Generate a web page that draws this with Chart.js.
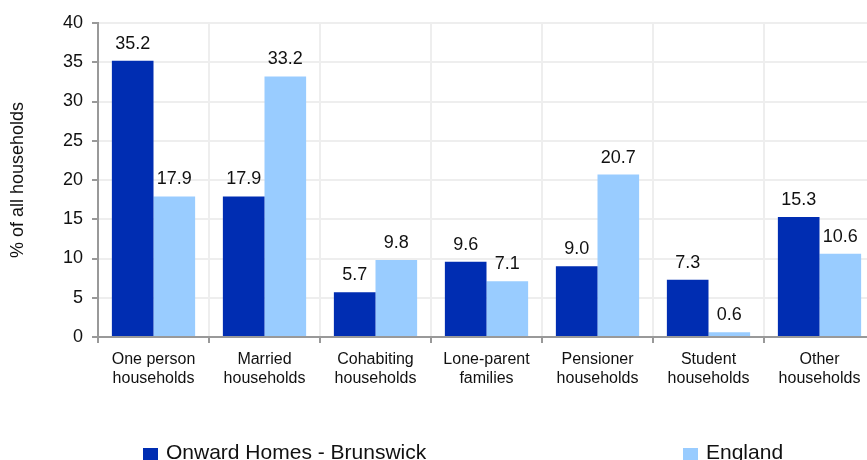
<!DOCTYPE html>
<html>
<head>
<meta charset="utf-8">
<script src="https://cdn.jsdelivr.net/npm/chart.js@4/dist/chart.umd.min.js"></script>
<style>
  body { margin: 0; background: #fff; overflow: hidden; }
  #wrap { position: relative; width: 875px; height: 460px; }
  .legend-item { position: absolute; top: 440px; font: 21px/24px "Liberation Sans", Arial, sans-serif; color: #111; white-space: nowrap; }
  .legend-item span { display: inline-block; width: 15px; height: 15px; margin-right: 8px; vertical-align: -4px; }
</style>
</head>
<body>
<div id="wrap">
  <canvas id="households" width="875" height="460"></canvas>
</div>
<script>
// household composition, % of all households
var categories = [
    ["One person", "households"],
    ["Married", "households"],
    ["Cohabiting", "households"],
    ["Lone-parent", "families"],
    ["Pensioner", "households"],
    ["Student", "households"],
    ["Other", "households"]
];
var seriesNames = ["Onward Homes - Brunswick", "England"];
var onwardValues = [35.2, 17.9, 5.7, 9.6, 9.0, 7.3, 15.3];
var englandValues = [17.9, 33.2, 9.8, 7.1, 20.7, 0.6, 10.6];
var yTicks = [0, 5, 10, 15, 20, 25, 30, 35, 40];

var colors = ["#002db2", "#99ccff"];
var fontFamily = '"Liberation Sans", Arial, sans-serif';

// value labels above each bar
var barValues = {
    id: 'barValues',
    afterDatasetsDraw: function (chart) {
        var ctx = chart.ctx;
        ctx.save();
        ctx.font = '18px ' + fontFamily;
        ctx.fillStyle = '#111';
        ctx.textAlign = 'center';
        ctx.textBaseline = 'alphabetic';
        chart.data.datasets.forEach(function (ds, i) {
            chart.getDatasetMeta(i).data.forEach(function (bar, j) {
                ctx.fillText(ds.data[j].toFixed(1), bar.x, bar.y - 12);
            });
        });
        ctx.restore();
    }
};

var chart = new Chart(document.getElementById('households'), {
    type: 'bar',
    data: {
        labels: categories,
        datasets: [
            { label: seriesNames[0], data: onwardValues, backgroundColor: colors[0] },
            { label: seriesNames[1], data: englandValues, backgroundColor: colors[1] }
        ]
    },
    options: {
        responsive: false,
        animation: false,
        categoryPercentage: 0.75,
        barPercentage: 1.0,
        layout: { padding: { top: 23, right: 0, left: 0, bottom: 0 } },
        plugins: {
            legend: { display: false },
            tooltip: { enabled: false }
        },
        scales: {
            x: {
                border: { color: '#999', width: 2 },
                grid: { color: '#eeeeee', lineWidth: 2, tickColor: '#999', tickLength: 6, offset: true },
                ticks: { color: '#111', padding: 7, font: { family: fontFamily, size: 16, lineHeight: 1.2 }, maxRotation: 0 },
                afterFit: function (scale) { scale.height = 123; }
            },
            y: {
                min: 0,
                max: 40,
                afterBuildTicks: function (scale) {
                    scale.ticks = yTicks.map(function (v) { return { value: v }; });
                },
                border: { color: '#999', width: 2 },
                grid: { color: '#eeeeee', lineWidth: 2, tickColor: '#999', tickLength: 6 },
                ticks: { color: '#111', padding: 9, font: { family: fontFamily, size: 18 } },
                title: {
                    display: true,
                    text: '% of all households',
                    color: '#111',
                    padding: { top: 7, bottom: 0 },
                    font: { family: fontFamily, size: 18 }
                },
                afterFit: function (scale) { scale.width = 98; }
            }
        }
    },
    plugins: [barValues]
});

// legend, spread across the bottom
var legendX = [143, 683];
seriesNames.forEach(function (name, i) {
    var item = document.createElement('div');
    item.className = 'legend-item';
    item.style.left = legendX[i] + 'px';
    item.innerHTML = '<span style="background:' + colors[i] + '"></span>' + name;
    document.getElementById('wrap').appendChild(item);
});
</script>
</body>
</html>
